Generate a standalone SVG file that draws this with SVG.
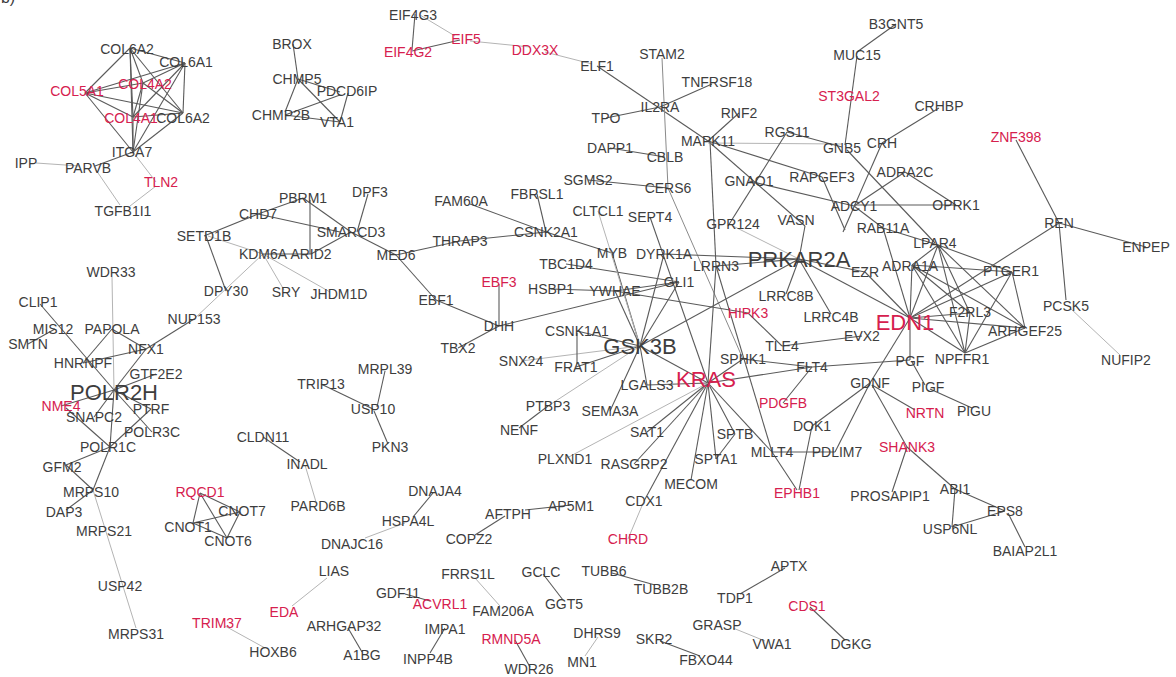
<svg xmlns="http://www.w3.org/2000/svg" width="1176" height="677" viewBox="0 0 1176 677">
<style>
text{font-family:"Liberation Sans",Arial,sans-serif;font-size:14px;fill:#3d3d3d;text-anchor:middle}
text.r{fill:#d6204e}
text.b{font-size:22px}
#edges line{stroke:#5a5a5a;stroke-width:1.1}
#edges line.l{stroke:#b4b4b4;stroke-width:1}
#edges line.m{stroke:#8a8a8a;stroke-width:1}
</style>
<rect width="1176" height="677" fill="#fff"/>
<text x="8" y="3" style="font-size:16px">b)</text>
<g id="edges">
<line x1="130" y1="48" x2="185" y2="63"/><line x1="130" y1="48" x2="143" y2="83"/><line x1="130" y1="48" x2="85" y2="93"/><line x1="130" y1="48" x2="133" y2="117"/><line x1="130" y1="48" x2="183" y2="113"/><line x1="130" y1="48" x2="133" y2="152"/>
<line x1="185" y1="63" x2="143" y2="83"/><line x1="185" y1="63" x2="85" y2="93"/><line x1="185" y1="63" x2="133" y2="117"/><line x1="185" y1="63" x2="183" y2="113"/><line x1="185" y1="63" x2="133" y2="152"/>
<line x1="143" y1="83" x2="85" y2="93"/><line x1="143" y1="83" x2="133" y2="117"/><line x1="143" y1="83" x2="183" y2="113"/><line x1="143" y1="83" x2="133" y2="152"/>
<line x1="85" y1="93" x2="133" y2="117"/><line x1="85" y1="93" x2="183" y2="113"/><line x1="85" y1="93" x2="133" y2="152"/>
<line x1="133" y1="117" x2="183" y2="113"/><line x1="133" y1="117" x2="133" y2="152"/><line x1="183" y1="113" x2="133" y2="152"/>
<line x1="133" y1="152" x2="95" y2="166"/>
<line class="l" x1="133" y1="152" x2="156" y2="182"/>
<line class="l" x1="36" y1="163" x2="80" y2="166"/>
<line class="l" x1="96" y1="170" x2="120" y2="205"/>
<line class="l" x1="156" y1="186" x2="130" y2="206"/>
<line x1="293" y1="44" x2="298" y2="79"/><line x1="298" y1="79" x2="285" y2="112"/><line x1="298" y1="79" x2="340" y2="122"/><line x1="298" y1="79" x2="340" y2="92"/><line x1="285" y1="115" x2="340" y2="95"/><line x1="285" y1="115" x2="340" y2="122"/><line x1="348" y1="93" x2="340" y2="122"/>
<line x1="415" y1="14" x2="412" y2="50"/><line class="l" x1="420" y1="15" x2="455" y2="36"/><line x1="412" y1="51" x2="460" y2="40"/><line class="l" x1="470" y1="41" x2="530" y2="47"/><line class="l" x1="545" y1="52" x2="592" y2="64"/>
<line x1="597" y1="66" x2="708" y2="141"/>
<line x1="708" y1="141" x2="805" y2="226"/>
<line x1="606" y1="118" x2="660" y2="107"/>
<line x1="660" y1="107" x2="712" y2="84"/>
<line class="m" x1="662" y1="58" x2="668" y2="188"/>
<line class="m" x1="668" y1="188" x2="743" y2="359"/>
<line x1="610" y1="148" x2="665" y2="157"/>
<line x1="588" y1="180" x2="668" y2="188"/>
<line x1="739" y1="113" x2="708" y2="141"/>
<line class="l" x1="708" y1="143" x2="842" y2="144"/>
<line x1="708" y1="141" x2="822" y2="177"/>
<line x1="710" y1="141" x2="716" y2="266"/>
<line x1="787" y1="132" x2="842" y2="147"/>
<line x1="787" y1="132" x2="728" y2="226"/>
<line x1="749" y1="181" x2="854" y2="206"/>
<line x1="857" y1="56" x2="845" y2="145"/>
<line x1="896" y1="24" x2="857" y2="52"/>
<line x1="939" y1="108" x2="882" y2="143"/>
<line x1="882" y1="143" x2="843" y2="232"/>
<line x1="905" y1="172" x2="854" y2="206"/>
<line x1="905" y1="172" x2="956" y2="205"/>
<line x1="854" y1="205" x2="956" y2="205"/>
<line x1="847" y1="150" x2="935" y2="243"/>
<line x1="822" y1="177" x2="845" y2="230"/>
<line x1="854" y1="206" x2="883" y2="228"/>
<line x1="1016" y1="140" x2="1059" y2="223"/>
<line x1="1059" y1="223" x2="1146" y2="247"/>
<line x1="1059" y1="223" x2="1066" y2="300"/>
<line class="l" x1="1070" y1="308" x2="1120" y2="355"/>
<line x1="1059" y1="223" x2="910" y2="318"/>
<line x1="910" y1="318" x2="938" y2="245"/><line x1="910" y1="318" x2="912" y2="265"/><line x1="910" y1="318" x2="1012" y2="272"/><line x1="910" y1="318" x2="970" y2="313"/><line x1="910" y1="318" x2="1025" y2="328"/><line x1="910" y1="318" x2="965" y2="353"/><line x1="910" y1="318" x2="910" y2="360"/>
<line x1="938" y1="245" x2="1012" y2="272"/><line x1="938" y1="245" x2="970" y2="313"/><line x1="938" y1="245" x2="1025" y2="328"/><line x1="938" y1="245" x2="965" y2="353"/><line x1="938" y1="245" x2="912" y2="265"/>
<line x1="912" y1="265" x2="1012" y2="272"/><line x1="912" y1="265" x2="970" y2="313"/><line x1="912" y1="265" x2="1025" y2="328"/><line x1="912" y1="265" x2="965" y2="353"/>
<line x1="1012" y1="272" x2="1025" y2="328"/><line x1="1012" y1="272" x2="965" y2="353"/><line x1="970" y1="313" x2="965" y2="353"/><line x1="1025" y1="328" x2="965" y2="353"/>
<line x1="865" y1="272" x2="910" y2="318"/><line x1="883" y1="228" x2="910" y2="318"/><line x1="799" y1="259" x2="910" y2="318"/><line x1="799" y1="259" x2="865" y2="272"/><line x1="883" y1="228" x2="938" y2="245"/>
<line x1="910" y1="318" x2="870" y2="383"/>
<line x1="812" y1="367" x2="910" y2="360"/>
<line x1="912" y1="362" x2="925" y2="385"/>
<line x1="930" y1="389" x2="972" y2="408"/>
<line x1="872" y1="385" x2="915" y2="410"/>
<line x1="872" y1="385" x2="907" y2="447"/>
<line x1="870" y1="383" x2="812" y2="426"/>
<line x1="870" y1="383" x2="835" y2="452"/>
<line x1="907" y1="447" x2="892" y2="492"/>
<line x1="907" y1="447" x2="955" y2="489"/>
<line x1="955" y1="489" x2="1005" y2="511"/><line x1="955" y1="489" x2="952" y2="527"/><line x1="952" y1="527" x2="1005" y2="511"/><line x1="1008" y1="513" x2="1025" y2="547"/>
<line x1="799" y1="259" x2="716" y2="266"/>
<line x1="799" y1="259" x2="640" y2="346"/>
<line x1="799" y1="259" x2="786" y2="294"/>
<line x1="799" y1="259" x2="831" y2="314"/>
<line x1="799" y1="259" x2="805" y2="226"/>
<line class="l" x1="799" y1="259" x2="733" y2="226"/>
<line x1="799" y1="259" x2="664" y2="254"/>
<line x1="782" y1="346" x2="862" y2="336"/>
<line x1="748" y1="313" x2="782" y2="346"/>
<line x1="743" y1="359" x2="812" y2="367"/>
<line x1="708" y1="383" x2="812" y2="367"/>
<line x1="783" y1="403" x2="812" y2="367"/>
<line x1="812" y1="426" x2="799" y2="490"/>
<line x1="772" y1="452" x2="835" y2="452"/>
<line x1="772" y1="452" x2="797" y2="490"/>
<line x1="716" y1="266" x2="772" y2="452"/>
<line x1="615" y1="291" x2="748" y2="313"/>
<line x1="640" y1="346" x2="615" y2="291"/>
<line x1="640" y1="346" x2="679" y2="282"/>
<line x1="640" y1="346" x2="577" y2="331"/>
<line x1="640" y1="346" x2="576" y2="367"/>
<line x1="640" y1="346" x2="647" y2="385"/>
<line x1="640" y1="346" x2="708" y2="383"/>
<line x1="640" y1="346" x2="610" y2="411"/>
<line x1="640" y1="346" x2="664" y2="254"/>
<line x1="640" y1="346" x2="612" y2="253"/>
<line class="l" x1="640" y1="346" x2="521" y2="361"/>
<line class="l" x1="640" y1="346" x2="548" y2="406"/>
<line x1="615" y1="291" x2="679" y2="282"/>
<line x1="551" y1="289" x2="615" y2="291"/>
<line x1="546" y1="232" x2="612" y2="253"/>
<line x1="566" y1="264" x2="679" y2="282"/>
<line x1="499" y1="326" x2="679" y2="282"/>
<line x1="650" y1="217" x2="708" y2="383"/>
<line class="l" x1="598" y1="211" x2="640" y2="346"/>
<line x1="716" y1="266" x2="708" y2="383"/>
<line x1="708" y1="383" x2="647" y2="385"/>
<line x1="708" y1="383" x2="743" y2="359"/>
<line x1="708" y1="383" x2="647" y2="432"/>
<line x1="708" y1="383" x2="735" y2="434"/>
<line x1="708" y1="383" x2="716" y2="459"/>
<line x1="708" y1="383" x2="691" y2="480"/>
<line x1="708" y1="383" x2="634" y2="464"/>
<line x1="708" y1="383" x2="644" y2="501"/>
<line x1="708" y1="383" x2="772" y2="452"/>
<line class="l" x1="708" y1="383" x2="565" y2="459"/>
<line class="l" x1="644" y1="501" x2="628" y2="539"/>
<line x1="735" y1="434" x2="716" y2="459"/>
<line x1="577" y1="333" x2="577" y2="364"/>
<line x1="470" y1="204" x2="546" y2="232"/>
<line x1="537" y1="194" x2="546" y2="232"/>
<line x1="546" y1="232" x2="460" y2="241"/>
<line x1="460" y1="241" x2="396" y2="255"/>
<line x1="396" y1="255" x2="351" y2="232"/>
<line x1="396" y1="255" x2="436" y2="300"/>
<line x1="436" y1="300" x2="499" y2="326"/>
<line x1="499" y1="284" x2="499" y2="326"/>
<line x1="499" y1="326" x2="458" y2="348"/>
<line x1="548" y1="406" x2="519" y2="428"/>
<line x1="385" y1="371" x2="377" y2="407"/>
<line x1="321" y1="384" x2="373" y2="409"/>
<line x1="374" y1="411" x2="388" y2="444"/>
<line class="l" x1="112" y1="277" x2="114" y2="390"/>
<line x1="40" y1="304" x2="114" y2="390"/>
<line x1="28" y1="344" x2="55" y2="329"/>
<line x1="112" y1="329" x2="83" y2="363"/>
<line x1="112" y1="329" x2="146" y2="349"/>
<line x1="83" y1="363" x2="146" y2="349"/>
<line x1="114" y1="390" x2="146" y2="349"/>
<line x1="146" y1="349" x2="194" y2="319"/>
<line class="l" x1="194" y1="319" x2="263" y2="254"/>
<line x1="114" y1="390" x2="156" y2="374"/>
<line x1="114" y1="390" x2="151" y2="409"/>
<line x1="114" y1="390" x2="94" y2="417"/>
<line x1="114" y1="390" x2="152" y2="432"/>
<line x1="114" y1="390" x2="110" y2="447"/>
<line x1="114" y1="390" x2="61" y2="406"/>
<line x1="66" y1="408" x2="110" y2="447"/>
<line x1="151" y1="409" x2="110" y2="447"/>
<line x1="110" y1="447" x2="66" y2="465"/>
<line x1="110" y1="447" x2="93" y2="490"/>
<line x1="66" y1="465" x2="93" y2="490"/>
<line x1="66" y1="510" x2="93" y2="490"/>
<line class="l" x1="93" y1="490" x2="136" y2="628"/>
<line x1="263" y1="437" x2="300" y2="462"/>
<line class="l" x1="305" y1="465" x2="316" y2="502"/>
<line x1="204" y1="236" x2="258" y2="214"/>
<line x1="206" y1="236" x2="226" y2="291"/>
<line class="l" x1="208" y1="236" x2="263" y2="254"/>
<line class="l" x1="263" y1="254" x2="284" y2="290"/>
<line class="l" x1="263" y1="254" x2="330" y2="292"/>
<line x1="263" y1="254" x2="311" y2="254"/>
<line x1="258" y1="214" x2="303" y2="198"/>
<line x1="258" y1="214" x2="340" y2="232"/>
<line x1="303" y1="198" x2="351" y2="232"/>
<line x1="310" y1="200" x2="310" y2="254"/>
<line x1="368" y1="194" x2="357" y2="232"/>
<line x1="351" y1="232" x2="311" y2="254"/>
<line x1="200" y1="493" x2="240" y2="512"/><line x1="200" y1="493" x2="193" y2="523"/><line x1="200" y1="493" x2="227" y2="538"/><line x1="240" y1="512" x2="193" y2="523"/><line x1="240" y1="512" x2="227" y2="538"/><line x1="193" y1="523" x2="227" y2="538"/>
<line class="l" x1="225" y1="626" x2="265" y2="648"/>
<line x1="433" y1="493" x2="413" y2="517"/>
<line class="l" x1="405" y1="523" x2="365" y2="538"/>
<line x1="525" y1="510" x2="571" y2="505"/>
<line x1="505" y1="516" x2="475" y2="535"/>
<line class="l" x1="327" y1="578" x2="292" y2="606"/>
<line x1="405" y1="594" x2="430" y2="601"/>
<line class="l" x1="475" y1="578" x2="500" y2="606"/>
<line x1="543" y1="574" x2="563" y2="600"/>
<line x1="348" y1="628" x2="362" y2="652"/>
<line x1="445" y1="628" x2="430" y2="653"/>
<line x1="515" y1="640" x2="530" y2="667"/>
<line class="l" x1="598" y1="637" x2="585" y2="656"/>
<line x1="612" y1="573" x2="655" y2="585"/>
<line x1="785" y1="568" x2="740" y2="594"/>
<line x1="810" y1="607" x2="845" y2="640"/>
<line class="l" x1="733" y1="628" x2="765" y2="641"/>
<line x1="660" y1="641" x2="700" y2="656"/>
</g>
<g id="n-COL6A2a"><text x="127" y="54">COL6A2</text></g>
<g id="n-COL6A1"><text x="186" y="67">COL6A1</text></g>
<g id="n-COL4A2"><text class="r" x="145" y="89">COL4A2</text></g>
<g id="n-COL5A1"><text class="r" x="77" y="96">COL5A1</text></g>
<g id="n-COL4A1"><text class="r" x="131" y="123">COL4A1</text></g>
<g id="n-COL6A2b"><text x="183" y="123">COL6A2</text></g>
<g id="n-ITGA7"><text x="132" y="157">ITGA7</text></g>
<g id="n-IPP"><text x="26" y="168">IPP</text></g>
<g id="n-PARVB"><text x="88" y="173">PARVB</text></g>
<g id="n-TLN2"><text class="r" x="161" y="187">TLN2</text></g>
<g id="n-TGFB1I1"><text x="123" y="216">TGFB1I1</text></g>
<g id="n-BROX"><text x="292" y="49">BROX</text></g>
<g id="n-CHMP5"><text x="297" y="84">CHMP5</text></g>
<g id="n-PDCD6IP"><text x="347" y="96">PDCD6IP</text></g>
<g id="n-CHMP2B"><text x="281" y="120">CHMP2B</text></g>
<g id="n-VTA1"><text x="337" y="127">VTA1</text></g>
<g id="n-EIF4G3"><text x="413" y="20">EIF4G3</text></g>
<g id="n-EIF4G2"><text class="r" x="408" y="57">EIF4G2</text></g>
<g id="n-EIF5"><text class="r" x="466" y="44">EIF5</text></g>
<g id="n-DDX3X"><text class="r" x="535" y="55">DDX3X</text></g>
<g id="n-ELF1"><text x="597" y="71">ELF1</text></g>
<g id="n-STAM2"><text x="662" y="59">STAM2</text></g>
<g id="n-TNFRSF18"><text x="717" y="87">TNFRSF18</text></g>
<g id="n-IL2RA"><text x="660" y="112">IL2RA</text></g>
<g id="n-TPO"><text x="606" y="123">TPO</text></g>
<g id="n-RNF2"><text x="739" y="118">RNF2</text></g>
<g id="n-MAPK11"><text x="708" y="146">MAPK11</text></g>
<g id="n-RGS11"><text x="787" y="137">RGS11</text></g>
<g id="n-GNB5"><text x="842" y="153">GNB5</text></g>
<g id="n-DAPP1"><text x="610" y="153">DAPP1</text></g>
<g id="n-CBLB"><text x="665" y="162">CBLB</text></g>
<g id="n-SGMS2"><text x="588" y="185">SGMS2</text></g>
<g id="n-CERS6"><text x="668" y="193">CERS6</text></g>
<g id="n-GNAO1"><text x="749" y="186">GNAO1</text></g>
<g id="n-RAPGEF3"><text x="822" y="182">RAPGEF3</text></g>
<g id="n-ADCY1"><text x="854" y="211">ADCY1</text></g>
<g id="n-CLTCL1"><text x="598" y="216">CLTCL1</text></g>
<g id="n-SEPT4"><text x="650" y="222">SEPT4</text></g>
<g id="n-GPR124"><text x="733" y="229">GPR124</text></g>
<g id="n-VASN"><text x="796" y="225">VASN</text></g>
<g id="n-MUC15"><text x="857" y="60">MUC15</text></g>
<g id="n-B3GNT5"><text x="896" y="29">B3GNT5</text></g>
<g id="n-ST3GAL2"><text class="r" x="849" y="101">ST3GAL2</text></g>
<g id="n-CRHBP"><text x="939" y="111">CRHBP</text></g>
<g id="n-CRH"><text x="882" y="148">CRH</text></g>
<g id="n-ADRA2C"><text x="905" y="177">ADRA2C</text></g>
<g id="n-OPRK1"><text x="956" y="210">OPRK1</text></g>
<g id="n-ZNF398"><text class="r" x="1016" y="142">ZNF398</text></g>
<g id="n-REN"><text x="1059" y="228">REN</text></g>
<g id="n-RAB11A"><text x="883" y="233">RAB11A</text></g>
<g id="n-ENPEP"><text x="1146" y="252">ENPEP</text></g>
<g id="n-LPAR4"><text x="935" y="248">LPAR4</text></g>
<g id="n-ADRA1A"><text x="910" y="271">ADRA1A</text></g>
<g id="n-PTGER1"><text x="1011" y="276">PTGER1</text></g>
<g id="n-PCSK5"><text x="1066" y="311">PCSK5</text></g>
<g id="n-F2RL3"><text x="970" y="317">F2RL3</text></g>
<g id="n-EDN1"><text class="r b" x="905" y="330">EDN1</text></g>
<g id="n-ARHGEF25"><text x="1025" y="336">ARHGEF25</text></g>
<g id="n-NUFIP2"><text x="1126" y="365">NUFIP2</text></g>
<g id="n-PGF"><text x="910" y="366">PGF</text></g>
<g id="n-NPFFR1"><text x="962" y="364">NPFFR1</text></g>
<g id="n-GDNF"><text x="870" y="388">GDNF</text></g>
<g id="n-PIGF"><text x="928" y="392">PIGF</text></g>
<g id="n-PIGU"><text x="974" y="416">PIGU</text></g>
<g id="n-NRTN"><text class="r" x="925" y="418">NRTN</text></g>
<g id="n-SHANK3"><text class="r" x="907" y="452">SHANK3</text></g>
<g id="n-EZR"><text x="865" y="277">EZR</text></g>
<g id="n-MYB"><text x="612" y="258">MYB</text></g>
<g id="n-DYRK1A"><text x="664" y="259">DYRK1A</text></g>
<g id="n-LRRN3"><text x="716" y="271">LRRN3</text></g>
<g id="n-PRKAR2A"><text class="b" x="799" y="267">PRKAR2A</text></g>
<g id="n-YWHAE"><text x="615" y="296">YWHAE</text></g>
<g id="n-GLI1"><text x="679" y="287">GLI1</text></g>
<g id="n-LRRC8B"><text x="786" y="301">LRRC8B</text></g>
<g id="n-HIPK3"><text class="r" x="748" y="318">HIPK3</text></g>
<g id="n-LRRC4B"><text x="831" y="322">LRRC4B</text></g>
<g id="n-CSNK1A1"><text x="577" y="336">CSNK1A1</text></g>
<g id="n-GSK3B"><text class="b" x="640" y="354">GSK3B</text></g>
<g id="n-TLE4"><text x="782" y="351">TLE4</text></g>
<g id="n-EVX2"><text x="862" y="341">EVX2</text></g>
<g id="n-SPHK1"><text x="743" y="364">SPHK1</text></g>
<g id="n-FLT4"><text x="812" y="372">FLT4</text></g>
<g id="n-FRAT1"><text x="576" y="372">FRAT1</text></g>
<g id="n-KRAS"><text class="r b" x="706" y="387">KRAS</text></g>
<g id="n-LGALS3"><text x="647" y="390">LGALS3</text></g>
<g id="n-PDGFB"><text class="r" x="783" y="408">PDGFB</text></g>
<g id="n-SEMA3A"><text x="610" y="416">SEMA3A</text></g>
<g id="n-DOK1"><text x="812" y="431">DOK1</text></g>
<g id="n-SAT1"><text x="647" y="437">SAT1</text></g>
<g id="n-SPTB"><text x="735" y="439">SPTB</text></g>
<g id="n-MLLT4"><text x="772" y="457">MLLT4</text></g>
<g id="n-PDLIM7"><text x="837" y="457">PDLIM7</text></g>
<g id="n-RASGRP2"><text x="634" y="469">RASGRP2</text></g>
<g id="n-SPTA1"><text x="716" y="464">SPTA1</text></g>
<g id="n-MECOM"><text x="691" y="489">MECOM</text></g>
<g id="n-EPHB1"><text class="r" x="797" y="498">EPHB1</text></g>
<g id="n-CDX1"><text x="644" y="506">CDX1</text></g>
<g id="n-CHRD"><text class="r" x="628" y="544">CHRD</text></g>
<g id="n-PROSAPIP1"><text x="890" y="501">PROSAPIP1</text></g>
<g id="n-ABI1"><text x="955" y="494">ABI1</text></g>
<g id="n-EPS8"><text x="1005" y="516">EPS8</text></g>
<g id="n-USP6NL"><text x="950" y="534">USP6NL</text></g>
<g id="n-BAIAP2L1"><text x="1025" y="556">BAIAP2L1</text></g>
<g id="n-TUBB6"><text x="604" y="576">TUBB6</text></g>
<g id="n-TUBB2B"><text x="661" y="594">TUBB2B</text></g>
<g id="n-APTX"><text x="789" y="571">APTX</text></g>
<g id="n-TDP1"><text x="735" y="603">TDP1</text></g>
<g id="n-CDS1"><text class="r" x="807" y="611">CDS1</text></g>
<g id="n-GRASP"><text x="717" y="630">GRASP</text></g>
<g id="n-DGKG"><text x="851" y="649">DGKG</text></g>
<g id="n-DHRS9"><text x="597" y="638">DHRS9</text></g>
<g id="n-SKR2"><text x="654" y="644">SKR2</text></g>
<g id="n-VWA1"><text x="772" y="649">VWA1</text></g>
<g id="n-FBXO44"><text x="706" y="665">FBXO44</text></g>
<g id="n-MN1"><text x="582" y="667">MN1</text></g>
<g id="n-PKN3"><text x="390" y="452">PKN3</text></g>
<g id="n-INADL"><text x="307" y="469">INADL</text></g>
<g id="n-PLXND1"><text x="565" y="464">PLXND1</text></g>
<g id="n-DNAJA4"><text x="435" y="496">DNAJA4</text></g>
<g id="n-PARD6B"><text x="318" y="511">PARD6B</text></g>
<g id="n-AP5M1"><text x="571" y="511">AP5M1</text></g>
<g id="n-AFTPH"><text x="508" y="519">AFTPH</text></g>
<g id="n-HSPA4L"><text x="408" y="526">HSPA4L</text></g>
<g id="n-COPZ2"><text x="469" y="544">COPZ2</text></g>
<g id="n-DNAJC16"><text x="352" y="549">DNAJC16</text></g>
<g id="n-LIAS"><text x="334" y="576">LIAS</text></g>
<g id="n-FRRS1L"><text x="468" y="579">FRRS1L</text></g>
<g id="n-GCLC"><text x="541" y="577">GCLC</text></g>
<g id="n-GDF11"><text x="398" y="598">GDF11</text></g>
<g id="n-ACVRL1"><text class="r" x="440" y="609">ACVRL1</text></g>
<g id="n-FAM206A"><text x="503" y="616">FAM206A</text></g>
<g id="n-GGT5"><text x="564" y="609">GGT5</text></g>
<g id="n-EDA"><text class="r" x="284" y="617">EDA</text></g>
<g id="n-ARHGAP32"><text x="344" y="631">ARHGAP32</text></g>
<g id="n-IMPA1"><text x="445" y="634">IMPA1</text></g>
<g id="n-RMND5A"><text class="r" x="511" y="644">RMND5A</text></g>
<g id="n-A1BG"><text x="362" y="660">A1BG</text></g>
<g id="n-INPP4B"><text x="428" y="664">INPP4B</text></g>
<g id="n-WDR26"><text x="529" y="674">WDR26</text></g>
<g id="n-POLR1C"><text x="108" y="452">POLR1C</text></g>
<g id="n-GFM2"><text x="62" y="472">GFM2</text></g>
<g id="n-MRPS10"><text x="91" y="497">MRPS10</text></g>
<g id="n-DAP3"><text x="64" y="517">DAP3</text></g>
<g id="n-MRPS21"><text x="104" y="536">MRPS21</text></g>
<g id="n-USP42"><text x="120" y="591">USP42</text></g>
<g id="n-MRPS31"><text x="136" y="639">MRPS31</text></g>
<g id="n-RQCD1"><text class="r" x="200" y="497">RQCD1</text></g>
<g id="n-CNOT7"><text x="242" y="516">CNOT7</text></g>
<g id="n-CNOT1"><text x="188" y="532">CNOT1</text></g>
<g id="n-CNOT6"><text x="228" y="546">CNOT6</text></g>
<g id="n-TRIM37"><text class="r" x="217" y="628">TRIM37</text></g>
<g id="n-HOXB6"><text x="273" y="657">HOXB6</text></g>
<g id="n-SETD1B"><text x="204" y="241">SETD1B</text></g>
<g id="n-KDM6A"><text x="263" y="259">KDM6A</text></g>
<g id="n-WDR33"><text x="111" y="277">WDR33</text></g>
<g id="n-DPY30"><text x="226" y="296">DPY30</text></g>
<g id="n-SRY"><text x="286" y="297">SRY</text></g>
<g id="n-CLIP1"><text x="38" y="307">CLIP1</text></g>
<g id="n-NUP153"><text x="194" y="324">NUP153</text></g>
<g id="n-MIS12"><text x="53" y="334">MIS12</text></g>
<g id="n-PAPOLA"><text x="112" y="334">PAPOLA</text></g>
<g id="n-SMTN"><text x="28" y="349">SMTN</text></g>
<g id="n-NFX1"><text x="146" y="354">NFX1</text></g>
<g id="n-HNRNPF"><text x="83" y="368">HNRNPF</text></g>
<g id="n-GTF2E2"><text x="156" y="379">GTF2E2</text></g>
<g id="n-POLR2H"><text class="b" x="114" y="400">POLR2H</text></g>
<g id="n-NME4"><text class="r" x="61" y="411">NME4</text></g>
<g id="n-PTRF"><text x="151" y="414">PTRF</text></g>
<g id="n-SNAPC2"><text x="94" y="422">SNAPC2</text></g>
<g id="n-POLR3C"><text x="152" y="437">POLR3C</text></g>
<g id="n-CLDN11"><text x="263" y="442">CLDN11</text></g>
<g id="n-SMARCD3"><text x="351" y="237">SMARCD3</text></g>
<g id="n-ARID2"><text x="311" y="259">ARID2</text></g>
<g id="n-THRAP3"><text x="460" y="246">THRAP3</text></g>
<g id="n-CSNK2A1"><text x="546" y="237">CSNK2A1</text></g>
<g id="n-MED6"><text x="396" y="260">MED6</text></g>
<g id="n-TBC1D4"><text x="566" y="269">TBC1D4</text></g>
<g id="n-EBF3"><text class="r" x="499" y="287">EBF3</text></g>
<g id="n-HSBP1"><text x="551" y="294">HSBP1</text></g>
<g id="n-JHDM1D"><text x="339" y="299">JHDM1D</text></g>
<g id="n-EBF1"><text x="436" y="305">EBF1</text></g>
<g id="n-DHH"><text x="499" y="331">DHH</text></g>
<g id="n-TBX2"><text x="458" y="353">TBX2</text></g>
<g id="n-SNX24"><text x="521" y="366">SNX24</text></g>
<g id="n-MRPL39"><text x="385" y="374">MRPL39</text></g>
<g id="n-TRIP13"><text x="321" y="389">TRIP13</text></g>
<g id="n-USP10"><text x="373" y="414">USP10</text></g>
<g id="n-PTBP3"><text x="548" y="411">PTBP3</text></g>
<g id="n-NENF"><text x="519" y="435">NENF</text></g>
<g id="n-PBRM1"><text x="303" y="203">PBRM1</text></g>
<g id="n-DPF3"><text x="370" y="197">DPF3</text></g>
<g id="n-CHD7"><text x="258" y="219">CHD7</text></g>
<g id="n-FAM60A"><text x="461" y="206">FAM60A</text></g>
<g id="n-FBRSL1"><text x="537" y="199">FBRSL1</text></g>
</svg>
